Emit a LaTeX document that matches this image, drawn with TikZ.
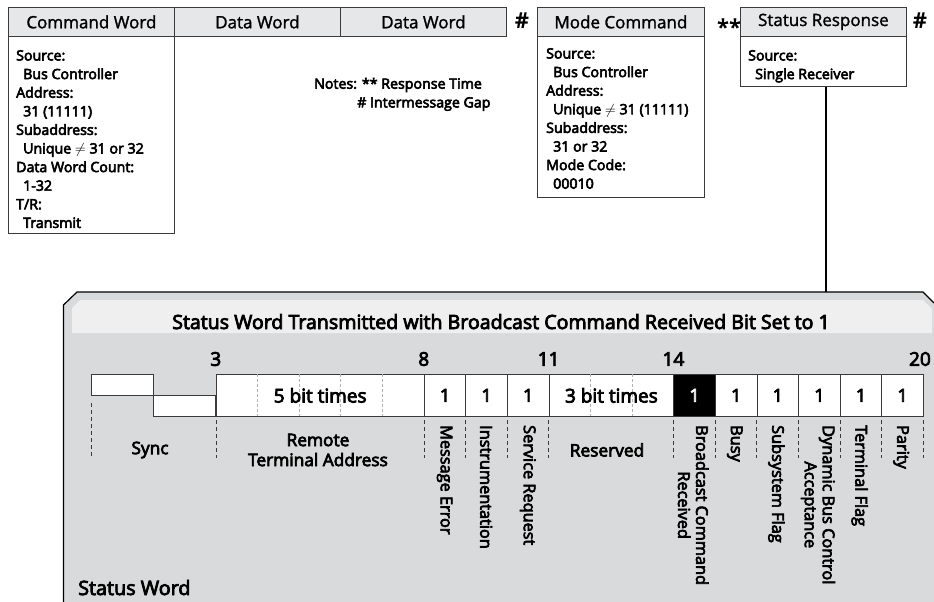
\documentclass[tikz,border=0pt]{standalone}
\usepackage{fontspec}
\setmainfont{Open Sans}
\newfontfamily\medium{Open Sans}[FakeBold=4]
\newfontfamily\light{Open Sans}[FakeBold=1.5]
\usetikzlibrary{calc}
\definecolor{hdrfill}{HTML}{E6E7E8}
\definecolor{panelfill}{HTML}{D9DADB}
\definecolor{bandfill}{HTML}{EFEFEF}
\definecolor{edge}{HTML}{3A3A3A}
\newcommand{\bx}[1]{\fontsize{#1}{#1}\selectfont}
\begin{document}
\begin{tikzpicture}[x=1pt,y=-1pt,
  hdr/.style={draw=edge,line width=0.8pt,fill=hdrfill,minimum height=29pt,inner sep=0pt,font=\bx{17}\light},
  bodybox/.style={draw=edge,line width=0.8pt,fill=white,inner sep=0pt},
  bodytext/.style={anchor=north west,inner sep=0pt,align=left,font=\fontsize{14.2}{18.6}\selectfont\medium},
  gapmark/.style={font=\fontsize{22}{22}\selectfont\bfseries,inner sep=0pt},
  cell/.style={draw=edge,line width=0.8pt,fill=white,minimum width=41.6pt,minimum height=42pt,inner sep=0pt,font=\bx{18}\medium},
  bitnum/.style={font=\bx{19}\medium,inner sep=0pt},
  field/.style={font=\fontsize{17.3}{20}\selectfont\medium,inner sep=0pt,align=center},
  vfield/.style={font=\fontsize{16.3}{18}\selectfont\medium,inner sep=0pt,align=center,rotate=-90,anchor=west},
  guide/.style={draw=edge,line width=0.6pt,dash pattern=on 4pt off 3pt},
  subdiv/.style={draw=gray!60,line width=0.5pt,dash pattern=on 3pt off 2pt}
]
\useasboundingbox (0,0) rectangle (934,602);

% ---- message sequence boxes ----
\node[hdr,minimum width=166pt,anchor=north west] (cwh) at (8,7) {Command Word};
\node[bodybox,minimum width=166pt,minimum height=197pt,anchor=north west] (cwb) at (8,36) {};
\node[bodytext] (cwt) at (16,50) {Source:\\\hspace*{7pt}Bus Controller\\Address:\\\hspace*{7pt}31 (11111)\\Subaddress:\\\hspace*{7pt}Unique $\neq$ 31 or 32\\Data Word Count:\\\hspace*{7pt}1-32\\T/R:\\\hspace*{7pt}Transmit};

\node[hdr,minimum width=166pt,anchor=north west] (dw1) at (174,7) {Data Word};
\node[hdr,minimum width=166pt,anchor=north west] (dw2) at (340,7) {Data Word};
\node[gapmark] (gap1) at (522,21) {\#};

\node[hdr,minimum width=167pt,anchor=north west] (mch) at (537,7) {Mode Command};
\node[bodybox,minimum width=167pt,minimum height=161pt,anchor=north west] (mcb) at (537,36) {};
\node[bodytext] (mct) at (546,48) {Source:\\\hspace*{7pt}Bus Controller\\Address:\\\hspace*{7pt}Unique $\neq$ 31 (11111)\\Subaddress:\\\hspace*{7pt}31 or 32\\Mode Code:\\\hspace*{7pt}00010};

\node[gapmark] (resp) at (729,27) {**};

\node[hdr,minimum width=166pt,anchor=north west] (srh) at (740,7) {Status Response};
\node[bodybox,minimum width=166pt,minimum height=50pt,anchor=north west] (srb) at (740,36) {};
\node[bodytext] (srt) at (748,50) {Source:\\\hspace*{7pt}Single Receiver};
\node[gapmark] (gap2) at (920,21) {\#};

\node[anchor=west,inner sep=0pt,font=\bx{14.2}\medium] (note1) at (314,85) {Notes: ** Response Time};
\node[anchor=west,inner sep=0pt,font=\bx{14.2}\medium] (note2) at (357,104) {\# Intermessage Gap};

% ---- status word panel ----
\fill[panelfill] (63.5,602) -- (63.5,305) -- (77,292) -- (923,292) -- (934,303) -- (934,602) -- cycle;
\draw[line width=1.2pt] (63.5,602) -- (63.5,305) -- (77,292) -- (923,292) -- (934,303);
\fill[bandfill] (72,333) -- (72,308) -- (80,300) -- (923,300) -- (932,309) -- (932,333) -- cycle;
\coordinate (ptop) at (826,292);
\draw[line width=2pt] (srb.south -| ptop) -- (ptop);

\node[font=\bx{19.6}\medium,inner sep=0pt,anchor=base] (title) at (501,329) {Status Word Transmitted with Broadcast Command Received Bit Set to 1};

% bit boundaries
\foreach \i in {0,...,20}{\coordinate (b\i) at ({91+41.6*\i},374);}

% bit numbers
\node[bitnum] (n3) at ($(b3)+(0,-15)$) {3};
\node[bitnum] (n8) at ($(b8)+(0,-15)$) {8};
\node[bitnum] (n11) at ($(b11)+(0,-15)$) {11};
\node[bitnum] (n14) at ($(b14)+(0,-15)$) {14};
\node[bitnum,anchor=east] (n20) at ($(b20)+(8,-15)$) {20};

% sync waveform
\draw[edge,line width=0.8pt,fill=white] (b0) rectangle ++(62,21);
\draw[edge,line width=0.8pt,fill=white] ($(b0)+(62,21)$) rectangle ($(b3)+(0,42)$);

% five bit address field
\node[cell,minimum width=208pt,anchor=north west] (rta) at (b3) {};
\foreach \i in {4,...,7}{\draw[subdiv] (b\i) -- ++(0,42);}
\node[font=\bx{19}\medium,inner sep=0pt] (rtat) at (rta.center) {5 bit times};

\node[cell,anchor=north west] (c8) at (b8) {1};
\node[cell,anchor=north west] (c9) at (b9) {1};
\node[cell,anchor=north west] (c10) at (b10) {1};
\node[cell,minimum width=124.8pt,anchor=north west] (res) at (b11) {};
\foreach \i in {12,13}{\draw[subdiv] (b\i) -- ++(0,42);}
\node[font=\bx{19}\medium,inner sep=0pt] (rest) at (res.center) {3 bit times};
\node[cell,fill=black,text=white,anchor=north west] (c14) at (b14) {1};
\node[cell,anchor=north west] (c15) at (b15) {1};
\node[cell,anchor=north west] (c16) at (b16) {1};
\node[cell,anchor=north west] (c17) at (b17) {1};
\node[cell,anchor=north west] (c18) at (b18) {1};
\node[cell,anchor=north west] (c19) at (b19) {1};

% field separators
\draw[guide] ($(b0)+(0,29)$) -- ++(0,55);
\foreach \i in {3,8,9,10,11,14,15,16,17,18,19,20}{\draw[guide] ($(b\i)+(0,46)$) -- ++(0,38);}

% field names
\node[field] (sync) at (150,450) {Sync};
\node[field] (rtaname) at (318,450) {Remote\\Terminal Address};
\node[field] (resname) at (607,450) {Reserved};
\node[vfield] (me) at (444.6,425) {Message Error};
\node[vfield] (instr) at (486.2,425) {Instrumentation};
\node[vfield] (sr) at (527.8,425) {Service Request};
\node[vfield] (bcr) at (693.2,425) {Broadcast Command\\Received};
\node[vfield] (busy) at (734.8,425) {Busy};
\node[vfield] (ssf) at (776.4,425) {Subsystem Flag};
\node[vfield] (dbca) at (818,425) {Dynamic Bus Control\\Acceptance};
\node[vfield] (tf) at (859.6,425) {Terminal Flag};
\node[vfield] (par) at (901.2,425) {Parity};

\node[font=\bx{19.8}\medium,inner sep=0pt,anchor=base west] (swname) at (78,595) {Status Word};
\end{tikzpicture}
\end{document}
